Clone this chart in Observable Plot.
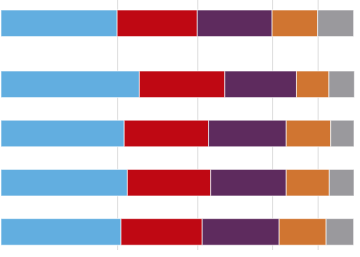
<!DOCTYPE html>
<html>
<head>
<meta charset="utf-8">
<script src="https://cdn.jsdelivr.net/npm/d3@7"></script>
<script src="https://cdn.jsdelivr.net/npm/@observablehq/plot@0.6"></script>
<style>
  html, body { margin: 0; padding: 0; background: #fff; }
  #chart svg { display: block; }
</style>
</head>
<body>
<div id="chart"></div>
<script>
// Row categories (top row is the reference row, set apart by a larger gap)
const rows = ["Total", "Group 1", "Group 2", "Group 3", "Group 4"];
// Series names and colours
const seriesNames = ["Series A", "Series B", "Series C", "Series D", "Series E"];
const seriesColors = ["#62aee0", "#bf0813", "#5e2b5e", "#d07531", "#9a999d"];
// Values (percent of each bar)
const seriesA = [32.9, 39.2, 34.9, 35.8, 34.0];
const seriesB = [22.7, 24.2, 23.9, 23.6, 23.0];
const seriesC = [21.2, 20.3, 22.0, 21.4, 21.8];
const seriesD = [12.9, 9.2, 12.6, 12.2, 13.3];
const seriesE = [10.2, 7.2, 6.6, 7.0, 7.8];

const allSeries = [seriesA, seriesB, seriesC, seriesD, seriesE];

// Build table with cumulative positions
const data = [];
rows.forEach((row, i) => {
  const pos = i === 0 ? 0 : i + 0.24; // extra gap after the first row
  let acc = 0;
  allSeries.forEach((vals, s) => {
    data.push({row, series: seriesNames[s], x1: acc, x2: acc + vals[i], y1: pos, y2: pos + 0.54});
    acc += vals[i];
  });
});

// Gridlines at the cumulative boundaries of the reference row
const grid = [];
{
  let acc = 0;
  for (let s = 0; s < allSeries.length - 1; s++) {
    acc += allSeries[s][0];
    grid.push(acc);
  }
}

const unit = 49.2;
const top0 = -10 / unit;

const chart = Plot.plot({
  width: 360,
  height: 257,
  marginLeft: 1,
  marginRight: 6,
  marginTop: 0,
  marginBottom: 7,
  x: {domain: [0, 100], axis: null},
  y: {domain: [top0, top0 + 250 / unit], range: [0, 250], axis: null},
  color: {domain: seriesNames, range: seriesColors},
  marks: [
    Plot.ruleX(grid, {stroke: "#dddddd", strokeWidth: 1}),
    Plot.rect(data, {
      x1: "x1", x2: "x2", y1: "y1", y2: "y2",
      fill: "series",
      stroke: "#ffffff",
      strokeOpacity: 0.6,
      strokeWidth: 1
    })
  ]
});
document.getElementById("chart").appendChild(chart);
</script>
</body>
</html>
